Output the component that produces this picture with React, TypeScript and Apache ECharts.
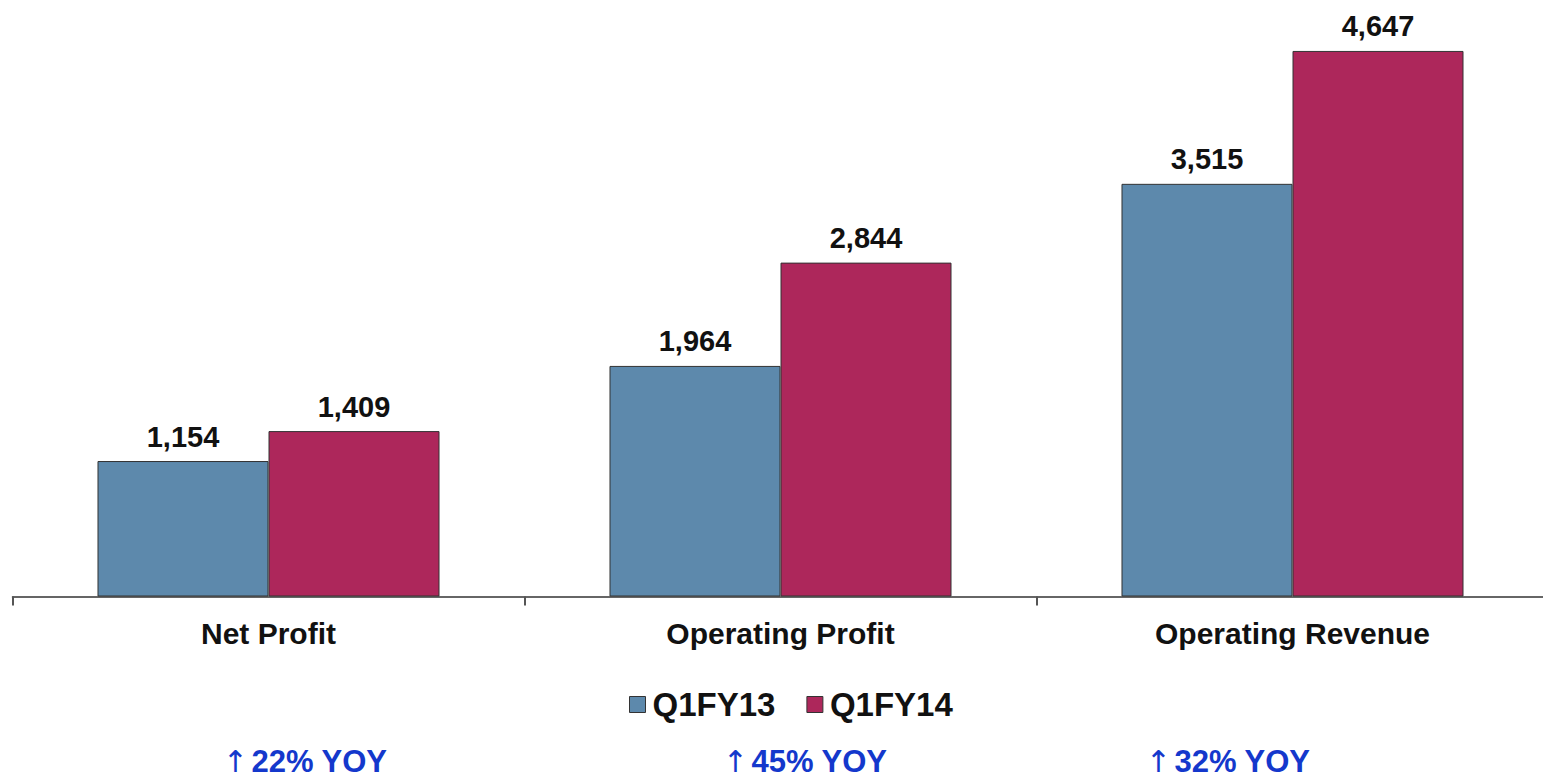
import React, { useEffect, useRef } from "react";
import * as echarts from "echarts";

const categories = ["Net Profit", "Operating Profit", "Operating Revenue"];
const q1fy13 = [1154, 1964, 3515];
const q1fy14 = [1409, 2844, 4647];
const seriesNames = ["Q1FY13", "Q1FY14"];
const yoyLabels = ["22% YOY", "45% YOY", "32% YOY"];
const yoyX = [305, 805, 1228];

export default function App() {
  const ref = useRef<HTMLDivElement>(null);
  useEffect(() => {
    if (!ref.current) return;
    const chart = echarts.init(ref.current, null, { renderer: "svg" });
    const font = "'Liberation Sans', Arial, sans-serif";
    const label = {
      show: true,
      position: "top" as const,
      distance: 10,
      color: "#111",
      fontFamily: font,
      fontWeight: "bold" as const,
      fontSize: 29,
      formatter: (p: any) => Number(p.value).toLocaleString("en-US"),
    };
    chart.setOption({
      animation: false,
      backgroundColor: "#fff",
      textStyle: { fontFamily: font },
      grid: {
        left: 12.5,
        width: 1536,
        top: 9.5,
        height: 587,
        outerBoundsMode: "none",
        containLabel: false,
      },
      xAxis: {
        type: "category",
        data: categories,
        axisLine: { lineStyle: { color: "#333", width: 1.5 } },
        axisTick: { show: true, length: 9, lineStyle: { color: "#555", width: 2 } },
        axisLabel: {
          margin: 22,
          color: "#111",
          fontFamily: font,
          fontWeight: "bold",
          fontSize: 30,
        },
      },
      yAxis: {
        type: "value",
        min: 0,
        max: 5000,
        show: false,
        splitLine: { show: false },
      },
      legend: {
        data: seriesNames,
        left: 624,
        top: 683,
        icon: "rect",
        itemWidth: 16,
        itemHeight: 16,
        itemGap: 31,
        itemStyle: { borderColor: "#333", borderWidth: 1 },
        textStyle: {
          fontFamily: font,
          fontWeight: "bold",
          fontSize: 33,
          color: "#111",
          padding: [0, 0, 0, 2],
        },
      },
      series: [
        {
          name: seriesNames[0],
          type: "bar",
          data: q1fy13,
          barGap: "0%",
          barCategoryGap: "33.2%",
          itemStyle: { color: "#5D89AC", borderColor: "#333", borderWidth: 1 },
          label,
        },
        {
          name: seriesNames[1],
          type: "bar",
          data: q1fy14,
          barGap: "0%",
          barCategoryGap: "33.2%",
          itemStyle: { color: "#AD275B", borderColor: "#333", borderWidth: 1 },
          label,
        },
      ],
      graphic: yoyLabels.map((t, i) => ({
        type: "text",
        x: yoyX[i],
        y: 761,
        style: {
          text: "{a|\u2191} {b|" + t + "}",
          textAlign: "center",
          textVerticalAlign: "middle",
          rich: {
            a: { fill: "#1438CC", fontFamily: "'DejaVu Sans', sans-serif", fontSize: 30, fontWeight: "normal" },
            b: { fill: "#1438CC", fontFamily: font, fontSize: 31, fontWeight: "bold" },
          },
        },
      })),
    });
    return () => chart.dispose();
  }, []);
  return (
    <div
      ref={ref}
      style={{ position: "fixed", left: 0, top: 0, width: 1543, height: 778 }}
    />
  );
}
